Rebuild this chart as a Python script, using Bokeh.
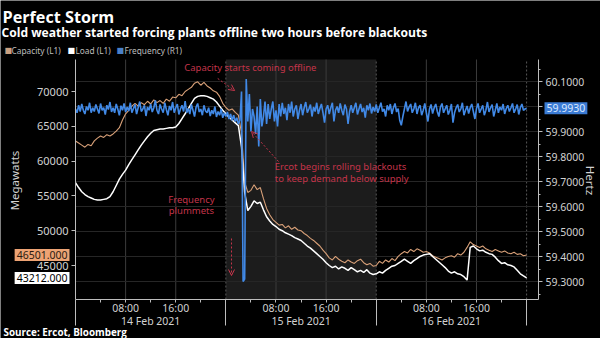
import math
from datetime import datetime, timezone
from bokeh.plotting import figure
from bokeh.models import (Range1d, LinearAxis, FixedTicker, BoxAnnotation, Label,
                          Arrow, OpenHead, CustomJSTickFormatter, NumeralTickFormatter)
from bokeh.embed import file_html
from bokeh.resources import INLINE

# ---------------- data ----------------
START = datetime(2021, 2, 14, tzinfo=timezone.utc)
HOUR_MS = 3600000.0
START_MS = START.timestamp() * 1000.0

POWER_STEP_H = 0.5     # capacity / load sampled every 30 min
FREQ_STEP_H = 0.25     # frequency sampled every 15 min

capacity_mw = [
    62900, 62600, 62300, 62000, 62400, 62200, 62900, 63300, 63600, 63400, 63800, 63600,
    63900, 64300, 64800, 65900, 66800, 67300, 67900, 68300, 67900, 68400, 68100, 68600,
    68200, 68800, 68400, 68700, 68300, 68900, 68600, 69200, 69100, 69600, 69400, 70000,
    70300, 70600, 71200, 71400, 70900, 71300, 70800, 70500, 70100, 69900, 69300, 68300,
    67700, 67300, 67500, 67000, 66600, 64000, 57000, 55500, 55800, 56600, 55900, 56200,
    54600, 53200, 52300, 51600, 51200, 50800, 50900, 50400, 50700, 50200, 50500, 50100,
    50000, 49600, 49300, 48900, 48600, 48200, 47800, 47200, 46700, 46100, 45800, 46300,
    45900, 45600, 45400, 45800, 45500, 45300, 45700, 45900, 45400, 45100, 45300, 44900,
    45000, 45600, 45300, 45800, 45500, 46000, 45700, 46300, 46700, 47000, 46800, 47300,
    47000, 47400, 47200, 46900, 47000, 46800, 46400, 46200, 46000, 45800, 46100, 46300,
    46400, 46200, 46700, 46500, 46900, 47600, 48400, 48000, 47800, 47600, 47800, 47400,
    47200, 47000, 47300, 47100, 46900, 47100, 46800, 46700, 46900, 46600, 46700, 46400,
    46501,
]

load_mw = [
    56900, 56200, 55600, 55200, 54900, 54700, 54500, 54400, 54400, 54500, 54600, 54900,
    55600, 56500, 57400, 58100, 58700, 59500, 60200, 60900, 61600, 62300, 62900, 63500,
    64000, 64400, 64500, 64600, 64600, 64700, 64800, 64800, 64900, 65400, 66100, 66800,
    67500, 68300, 69000, 69300, 69400, 69400, 69300, 69100, 68900, 68500, 67900, 67300,
    66800, 66300, 65900, 65500, 65100, 62000, 55500, 52900, 53500, 54300, 53900, 54100,
    53000, 52000, 51400, 50900, 50600, 50200, 50000, 49700, 49500, 49300, 49000, 48800,
    48600, 48200, 47800, 47500, 47100, 46700, 46300, 45900, 45400, 45000, 44700, 44900,
    44500, 44800, 44600, 44300, 44700, 44400, 44100, 44300, 44000, 44400, 43900, 43700,
    43800, 44100, 43900, 44300, 44600, 44900, 45000, 45300, 45600, 45900, 45600, 45300,
    45700, 46000, 46300, 46500, 46600, 46700, 46300, 45900, 45500, 45100, 44700, 44200,
    43900, 44100, 43800, 43700, 43400, 42900, 47600, 47800, 47400, 47100, 47200, 46900,
    46700, 46600, 46200, 45700, 45300, 45400, 45100, 45000, 44800, 44300, 43800, 43500,
    43212,
]

frequency_hz = [
    59.990, 59.975, 60.005, 59.980, 60.010, 59.985, 59.970, 60.000, 59.985, 60.015, 59.975, 59.995,
    59.980, 60.008, 59.990, 59.972, 60.012, 59.985, 59.995, 59.968, 60.005, 59.988, 60.018, 59.978,
    59.995, 59.975, 60.010, 59.990, 59.965, 60.003, 59.985, 60.012, 59.978, 59.998, 59.982, 60.015,
    59.975, 59.992, 60.008, 59.970, 59.995, 60.020, 59.980, 59.990, 60.005, 59.962, 59.998, 59.985,
    60.010, 59.978, 59.995, 60.025, 59.985, 59.970, 60.008, 59.990, 59.975, 60.015, 59.988, 59.965,
    60.002, 59.985, 60.018, 59.975, 59.995, 60.010, 59.968, 59.990, 60.005, 59.980, 60.022, 59.975,
    59.992, 59.970, 60.008, 59.985, 59.960, 59.998, 60.012, 59.978, 59.990, 59.965, 60.005, 59.982,
    59.975, 59.995, 59.962, 59.985, 59.970, 60.000, 59.958, 59.980, 59.965, 59.990, 59.955, 59.975,
    59.960, 59.978, 59.950, 59.970, 59.945, 59.965, 59.940, 59.955, 59.930, 59.945, 60.060, 59.300,
    59.310, 60.110, 59.940, 60.050, 59.900, 59.990, 59.960, 59.890, 60.000, 59.840, 60.030, 59.920,
    59.960, 60.020, 59.930, 60.010, 59.950, 59.990, 60.020, 59.940, 59.985, 59.920, 60.010, 59.960,
    60.015, 59.970, 59.995, 59.945, 60.010, 59.975, 60.020, 59.960, 59.990, 60.005, 59.950, 59.985,
    60.010, 59.965, 59.995, 60.018, 59.975, 59.990, 60.008, 59.960, 59.998, 59.980, 60.015, 59.970,
    59.992, 60.010, 59.975, 59.935, 59.990, 60.005, 59.970, 59.995, 60.015, 59.940, 59.985, 60.000,
    59.975, 60.012, 59.985, 59.965, 60.008, 59.990, 59.930, 59.980, 60.005, 59.975, 59.995, 60.015,
    59.968, 59.990, 60.010, 59.978, 59.995, 59.955, 60.005, 59.985, 60.012, 59.972, 59.998, 59.980,
    60.008, 59.975, 59.995, 60.015, 59.980, 59.990, 59.960, 60.005, 59.985, 60.010, 59.970, 59.995,
    60.012, 59.978, 59.992, 59.945, 59.925, 59.960, 59.990, 60.020, 59.980, 59.998, 60.010, 59.975,
    59.990, 60.015, 59.970, 59.995, 60.005, 59.965, 59.985, 60.012, 59.975, 59.940, 59.990, 60.008,
    59.972, 59.995, 60.010, 59.980, 59.960, 59.998, 60.012, 59.975, 59.990, 60.005, 59.968, 59.985,
    60.010, 59.935, 59.975, 59.995, 60.008, 59.978, 59.990, 60.015, 59.965, 59.985, 60.002, 59.972,
    59.995, 60.010, 59.980, 59.950, 59.992, 60.012, 59.975, 59.990, 60.005, 59.965, 59.985, 60.018,
    59.978, 59.995, 60.008, 59.960, 59.985, 60.012, 59.975, 59.998, 59.985, 60.010, 59.970, 59.992,
    60.005, 59.980, 59.995, 60.012, 59.975, 59.990, 60.008, 59.968, 59.995, 60.010, 59.985, 59.990,
    59.993,
]

mw_ticks = [45000, 50000, 55000, 60000, 65000, 70000]
hz_ticks = [59.3, 59.4, 59.5, 59.6, 59.7, 59.8, 59.9, 60.0, 60.1]
hz_minor_ticks = [59.25, 59.35, 59.45, 59.55, 59.65, 59.75, 59.85, 59.95, 60.05, 60.15]
time_tick_hours = [8, 16, 32, 40, 56, 64]
time_tick_labels = ["08:00", "16:00", "08:00", "16:00", "08:00", "16:00"]
day_label_hours = [12, 36, 60]
day_labels = ["14 Feb 2021", "15 Feb 2021", "16 Feb 2021"]
midnight_hours = [0, 24, 48, 72]
minor_tick_hours = [4, 8, 12, 16, 20, 28, 32, 36, 40, 44, 52, 56, 60, 64, 68]
shaded_hours = (24, 48)

last_capacity_label = "46501.000"
last_load_label = "43212.000"
last_freq_label = "59.9930"

# ---------------- geometry (pixels of the 600x338 canvas) ----------------
W, H = 600, 338
PLOT_L, PLOT_R, PLOT_T, PLOT_B = 75, 538, 59, 299
X_END_H = 73.9
MW_LO, MW_HI = 40115, 74598
HZ_LO, HZ_HI = 59.228, 60.188

PX_PER_H = (PLOT_R - PLOT_L) / X_END_H
MW_PER_PX = (MW_HI - MW_LO) / (PLOT_B - PLOT_T)
HZ_PER_PX = (HZ_HI - HZ_LO) / (PLOT_B - PLOT_T)


def t(h):
    return START_MS + h * HOUR_MS


def sy(canvas_y):          # canvas y (top-down) -> frame screen y (bottom-up)
    return H - canvas_y


power_x = [t(i * POWER_STEP_H) for i in range(len(capacity_mw))]
freq_x = [t(i * FREQ_STEP_H) for i in range(len(frequency_hz))]

BG = "#000000"
TICK_COL = "#d2d2d2"
AX_COL = "#bdbdbd"
RED = "#c4344a"
CAP_COL = "#d8a078"
FREQ_COL = "#4189e6"
FONT = "Noto Sans"
BOLD_FONT = "Open Sans"

x_range = Range1d(t(-PLOT_L / PX_PER_H), t(X_END_H + (W - PLOT_R) / PX_PER_H))
y_range = Range1d(MW_LO - (H - PLOT_B) * MW_PER_PX, MW_HI + PLOT_T * MW_PER_PX)

p = figure(width=W, height=H, output_backend="svg", toolbar_location=None,
           x_range=x_range, y_range=y_range, x_axis_type=None, y_axis_type=None,
           min_border=0, background_fill_color=BG, border_fill_color=BG,
           outline_line_color=None)
p.extra_y_ranges = {"hz": Range1d(HZ_LO - (H - PLOT_B) * HZ_PER_PX, HZ_HI + PLOT_T * HZ_PER_PX)}

# shaded day
p.add_layout(BoxAnnotation(left=t(shaded_hours[0]), right=t(shaded_hours[1]),
                           bottom=MW_LO, top=MW_HI,
                           fill_color="#1c1c1c", fill_alpha=1.0, line_color=None, level="image"))

# grid lines (bounded to the plot area)
p.segment(x0=[t(h) for h in time_tick_hours], y0=MW_LO, x1=[t(h) for h in time_tick_hours], y1=MW_HI,
          line_color="#3c3c3c", line_width=1)
p.segment(x0=[t(h) for h in midnight_hours[1:]], y0=MW_LO,
          x1=[t(h) for h in midnight_hours[1:]], y1=MW_HI,
          line_color="#585858", line_width=1, line_dash="2 2")
p.segment(x0=t(0), y0=hz_ticks, x1=t(X_END_H), y1=hz_ticks, y_range_name="hz",
          line_color="#262626", line_width=1)

# axes, pinned at the edges of the plot area
xaxis = LinearAxis(ticker=FixedTicker(ticks=[t(h) for h in midnight_hours],
                                      minor_ticks=[t(h) for h in minor_tick_hours]),
                   formatter=CustomJSTickFormatter(code="return ''"),
                   fixed_location=MW_LO, bounds=(t(0), t(X_END_H)),
                   major_tick_out=26, major_tick_in=0, minor_tick_out=3, minor_tick_in=0,
                   major_label_standoff=0, major_label_text_font_size="1px",
                   axis_line_color=AX_COL, major_tick_line_color=AX_COL,
                   minor_tick_line_color=AX_COL)
p.add_layout(xaxis, "below")

yaxis = LinearAxis(ticker=FixedTicker(ticks=mw_ticks), fixed_location=t(0),
                   bounds=(MW_LO, MW_HI),
                   major_tick_out=4, major_tick_in=0, minor_tick_out=0, minor_tick_in=0,
                   major_label_standoff=3,
                   major_label_text_font=FONT, major_label_text_font_size="11px",
                   major_label_text_color=TICK_COL,
                   axis_line_color=AX_COL, major_tick_line_color=AX_COL)
p.add_layout(yaxis, "left")

raxis = LinearAxis(y_range_name="hz", fixed_location=t(X_END_H), bounds=(HZ_LO, HZ_HI),
                   ticker=FixedTicker(ticks=hz_ticks, minor_ticks=hz_minor_ticks),
                   formatter=NumeralTickFormatter(format="0.0000"),
                   major_tick_out=4, major_tick_in=0, minor_tick_out=2, minor_tick_in=0,
                   major_label_standoff=3,
                   major_label_text_font=FONT, major_label_text_font_size="10.5px",
                   major_label_text_color=TICK_COL,
                   axis_line_color=AX_COL, major_tick_line_color=AX_COL,
                   minor_tick_line_color=AX_COL)
p.add_layout(raxis, "right")

# series
p.line(power_x, capacity_mw, line_color=CAP_COL, line_width=1.1)
p.line(power_x, load_mw, line_color="#ffffff", line_width=1.5)
p.line(freq_x, frequency_hz, line_color=FREQ_COL, line_width=1.6, y_range_name="hz")


# annotations (data coordinates)
def note(text, h, mw, align="center"):
    p.add_layout(Label(x=t(h), y=mw, text=text, text_color=RED, text_font=FONT,
                       text_font_size="9.5px", text_align=align, text_baseline="middle"))


note("Capacity starts coming offline", 27.9, 73450)
note("Ercot begins rolling blackouts", 31.8, 59220, "left")
note("to keep demand below supply", 31.8, 57550, "left")
note("Frequency", 18.5, 54480)
note("plummets", 18.5, 52900)


def arrow(h0, m0, h1, m1):
    p.add_layout(Arrow(x_start=t(h0), y_start=m0, x_end=t(h1), y_end=m1,
                       line_color=RED, line_width=1, line_dash="2 2",
                       end=OpenHead(size=6, line_color=RED, line_width=1)))


arrow(22.7, 71870, 25.4, 70140)
arrow(32.4, 59940, 28.1, 64250)
arrow(24.9, 48880, 24.9, 43560)

# last-value tags
p.add_layout(Label(x=69, x_units="screen", y=capacity_mw[-1], text=last_capacity_label,
                   text_font=FONT, text_font_size="10.5px", text_color="#2a1a10",
                   text_align="right", text_baseline="middle",
                   background_fill_color="#eda374", padding=2))
p.add_layout(Label(x=69, x_units="screen", y=load_mw[-1], text=last_load_label,
                   text_font=FONT, text_font_size="10.5px", text_color="#000000",
                   text_align="right", text_baseline="middle",
                   background_fill_color="#ffffff", padding=2))
p.add_layout(Label(x=544, x_units="screen", y=frequency_hz[-1], y_range_name="hz",
                   text=last_freq_label,
                   text_font=FONT, text_font_size="10.5px", text_color="#dce9ff",
                   text_align="left", text_baseline="middle",
                   background_fill_color="#3b7bd4", padding=2))

# x tick labels and day labels
for h, s in zip(time_tick_hours, time_tick_labels):
    p.add_layout(Label(x=t(h), y=sy(307), y_units="screen", text=s, text_font=FONT,
                       text_font_size="10.5px", text_color=TICK_COL,
                       text_align="center", text_baseline="middle"))
for h, s in zip(day_label_hours, day_labels):
    p.add_layout(Label(x=t(h), y=sy(320), y_units="screen", text=s, text_font=FONT,
                       text_font_size="10.5px", text_color=TICK_COL,
                       text_align="center", text_baseline="middle"))

# axis titles
p.add_layout(Label(x=14, y=sy(180), x_units="screen", y_units="screen", text="Megawatts",
                   angle=math.pi / 2, text_font=FONT, text_font_size="11.5px",
                   text_color=TICK_COL, text_align="center", text_baseline="middle"))
p.add_layout(Label(x=590, y=sy(180), x_units="screen", y_units="screen", text="Hertz",
                   angle=-math.pi / 2, text_font=FONT, text_font_size="11.5px",
                   text_color=TICK_COL, text_align="center", text_baseline="middle"))

# titles, legend, source
p.add_layout(Label(x=2, y=sy(5), x_units="screen", y_units="screen", text="Perfect Storm",
                   text_font=BOLD_FONT, text_font_style="bold", text_font_size="16.2px",
                   text_color="#ffffff", text_baseline="top"))
p.add_layout(Label(x=1, y=sy(23), x_units="screen", y_units="screen",
                   text="Cold weather started forcing plants offline two hours before blackouts",
                   text_font=BOLD_FONT, text_font_style="bold", text_font_size="12.1px",
                   text_color="#ffffff", text_baseline="top"))
legend_items = [("Capacity (L1)", "#c9a080", 4, 11), ("Load (L1)", "#ffffff", 67, 75),
                ("Frequency (R1)", "#4a80c8", 116, 124)]
for name, col, xs, xt in legend_items:
    p.add_layout(Label(x=xs, y=sy(50), x_units="screen", y_units="screen", text="■",
                       text_font="DejaVu Sans", text_font_size="8px", text_color=col,
                       text_baseline="middle"))
    p.add_layout(Label(x=xt, y=sy(50), x_units="screen", y_units="screen", text=name,
                       text_font=FONT, text_font_size="8.3px", text_color="#bdbdbd",
                       text_baseline="middle"))
p.add_layout(Label(x=3, y=sy(331), x_units="screen", y_units="screen",
                   text="Source: Ercot, Bloomberg",
                   text_font=BOLD_FONT, text_font_style="bold", text_font_size="9.9px",
                   text_color="#ffffff", text_baseline="middle"))

open("out.html", "w").write(file_html(p, INLINE))
